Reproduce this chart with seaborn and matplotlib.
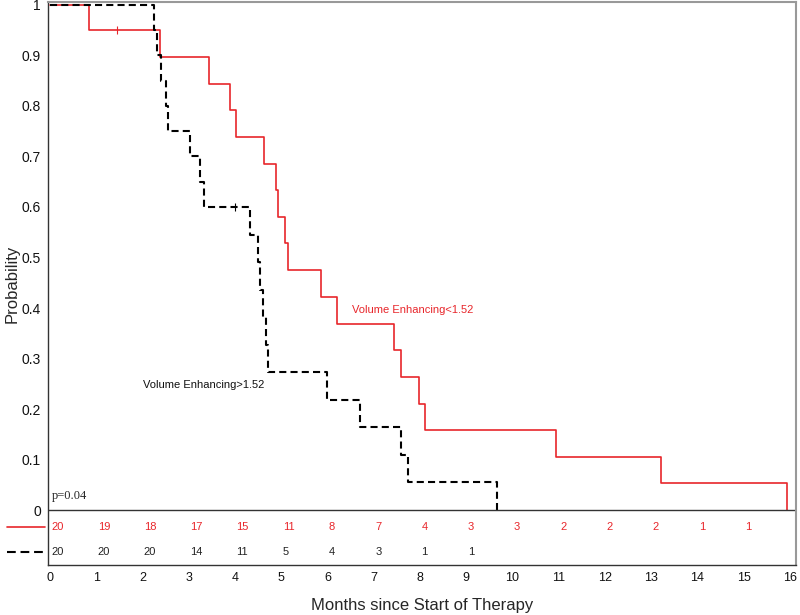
import numpy as np
import pandas as pd
import seaborn as sns
import matplotlib
matplotlib.use("Agg")
import matplotlib.pyplot as plt

# Kaplan-Meier steps (time in months, survival after the step)
low_times = [0, 0.84, 2.38, 3.44, 3.90, 4.02, 4.63, 4.89, 4.92, 5.08, 5.15,
             5.85, 6.21, 7.44, 7.59, 7.98, 8.10, 10.94, 13.21, 15.94]
low_surv = [1, 0.95, 0.897, 0.844, 0.792, 0.739, 0.686, 0.633, 0.580, 0.528, 0.475,
            0.422, 0.369, 0.317, 0.264, 0.211, 0.158, 0.106, 0.053, 0]

high_times = [0, 2.25, 2.32, 2.40, 2.50, 2.56, 3.03, 3.24, 3.33, 4.32, 4.50,
              4.55, 4.60, 4.66, 4.72, 6.00, 6.70, 7.59, 7.75, 9.66]
high_surv = [1, 0.95, 0.90, 0.85, 0.80, 0.75, 0.70, 0.65, 0.60, 0.545, 0.491,
             0.436, 0.382, 0.327, 0.273, 0.218, 0.164, 0.109, 0.055, 0]

# censored observations
low_cens_t, low_cens_s = [1.45], [0.95]
high_cens_t, high_cens_s = [4.0], [0.60]

# numbers at risk per month
months = list(range(0, 17))
low_at_risk = [20, 19, 18, 17, 15, 11, 8, 7, 4, 3, 3, 2, 2, 2, 1, 1]
high_at_risk = [20, 20, 20, 14, 11, 5, 4, 3, 1, 1]

red = "#e8262b"
dash = (0, (3.4, 2.0))

sns.set_theme(style="white")
plt.rcParams["font.family"] = ["Liberation Sans", "DejaVu Sans"]

fig = plt.figure(figsize=(8, 6.15), dpi=100)
ax = fig.add_axes([0.06, 0.081, 0.935, 0.916])

low = pd.DataFrame({"t": low_times, "s": low_surv})
high = pd.DataFrame({"t": high_times, "s": high_surv})

sns.lineplot(data=low, x="t", y="s", drawstyle="steps-post", color=red,
             linewidth=1.2, ax=ax, estimator=None)
sns.lineplot(data=high, x="t", y="s", drawstyle="steps-post", color="black",
             linewidth=1.5, ax=ax, estimator=None)
ax.lines[-1].set_linestyle(dash)

ax.plot(low_cens_t, low_cens_s, ls="none", marker="|", ms=6, mew=0.8, color=red)
ax.plot(high_cens_t, high_cens_s, ls="none", marker="|", ms=6, mew=0.8, color="black")

ax.axhline(0, color="#333333", lw=1)

# at-risk table inside the lower strip
y_low, y_high = -0.034, -0.083
for m, n in zip(months, low_at_risk):
    ax.text(m + 0.03, y_low, str(n), color=red, fontsize=8, ha="left", va="center")
for m, n in zip(months, high_at_risk):
    ax.text(m + 0.03, y_high, str(n), color="#222222", fontsize=8, ha="left", va="center")
ax.plot([-0.93, -0.1], [y_low, y_low], color=red, lw=1.2, clip_on=False)
ax.plot([-0.93, -0.1], [y_high, y_high], color="black", lw=1.5,
        ls=(0, (4.2, 2.3)), clip_on=False)

ax.text(6.53, 0.396, "Volume Enhancing<1.52", color=red, fontsize=8, va="center")
ax.text(2.01, 0.2475, "Volume Enhancing>1.52", color="#111111", fontsize=8, va="center")
ax.text(0.03, 0.028, "p=0.04", fontsize=9, va="center",
        family=["Liberation Serif", "DejaVu Serif"])

ax.set_xlim(-0.043, 16.13)
ax.set_ylim(-0.109, 1.006)
ax.set_xticks(months)
ax.set_xticklabels([str(m) for m in months], fontsize=9)
yt = [round(v * 0.1, 1) for v in range(11)]
ax.set_yticks(yt)
ax.set_yticklabels(["0", "0.1", "0.2", "0.3", "0.4", "0.5", "0.6", "0.7", "0.8", "0.9", "1"],
                   fontsize=10)
ax.tick_params(axis="both", length=0, pad=5, colors="#111111")
ax.set_xlabel("Months since Start of Therapy", fontsize=12, labelpad=10)
ax.set_ylabel("Probability", fontsize=12, va="center")
ax.yaxis.set_label_coords(-0.048, 0.5)

for side in ["left", "bottom"]:
    ax.spines[side].set_color("#333333")
    ax.spines[side].set_linewidth(1)
for side in ["top", "right"]:
    ax.spines[side].set_color("#999999")
    ax.spines[side].set_linewidth(1.5)

fig.savefig("out.png", dpi=100)
